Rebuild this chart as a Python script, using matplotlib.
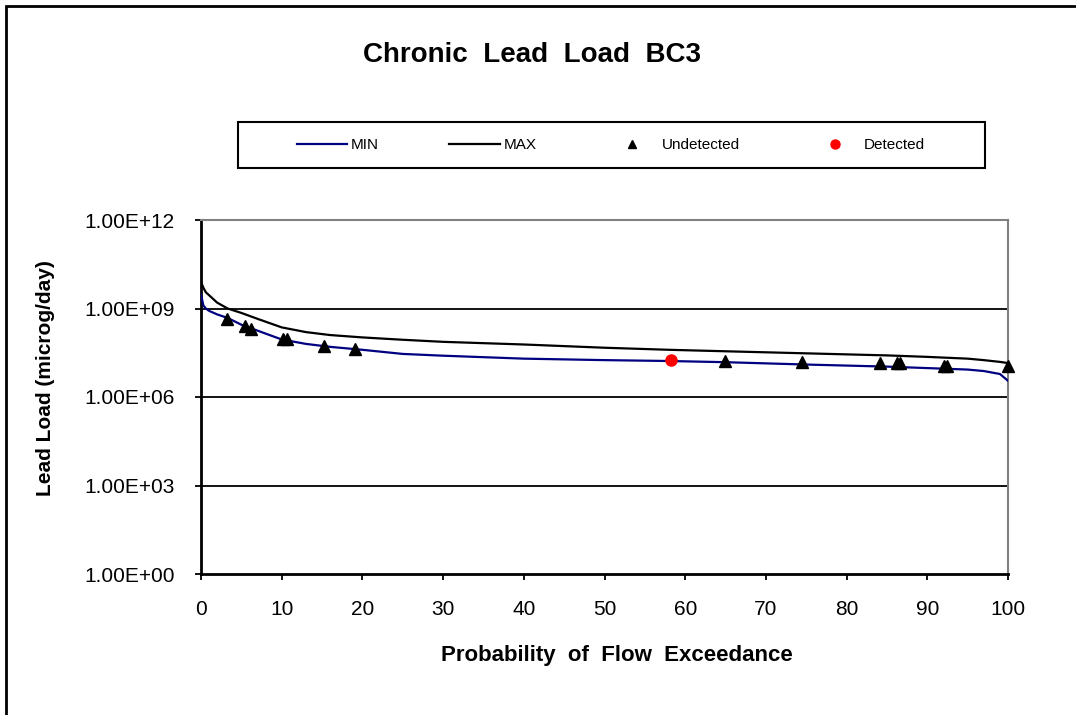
import numpy as np
import matplotlib.pyplot as plt
from matplotlib.lines import Line2D
from matplotlib.patches import Rectangle

# flow exceedance curves (log10 of load)
curve_x = [0, 0.3, 0.6, 1, 2, 3.3, 5, 7, 10, 13, 16, 20, 25, 30, 40, 50, 58, 65, 75, 85, 90, 95, 97, 99, 100]
max_log = [9.9, 9.7, 9.55, 9.45, 9.2, 9.0, 8.85, 8.65, 8.36, 8.2, 8.1, 8.02, 7.94, 7.87, 7.78, 7.67, 7.6, 7.55, 7.48, 7.41, 7.36, 7.3, 7.25, 7.19, 7.15]
min_log = [9.47, 9.1, 9.0, 8.92, 8.8, 8.68, 8.45, 8.25, 7.95, 7.8, 7.7, 7.6, 7.46, 7.4, 7.3, 7.25, 7.22, 7.18, 7.1, 7.03, 6.98, 6.93, 6.88, 6.78, 6.55]

undet_x = [3.2, 5.5, 6.2, 10.2, 10.6, 15.2, 19.1, 64.9, 74.5, 84.1, 86.2, 86.6, 92.1, 92.5, 100]
undet_log = [8.66, 8.39, 8.32, 7.98, 7.98, 7.72, 7.64, 7.22, 7.19, 7.16, 7.15, 7.15, 7.06, 7.06, 7.06]

det_x = [58.2]
det_log = [7.24]

ytick_vals = [1e0, 1e3, 1e6, 1e9, 1e12]
ytick_labels = ['1.00E+00', '1.00E+03', '1.00E+06', '1.00E+09', '1.00E+12']

plt.rcParams['font.family'] = ['Liberation Sans', 'DejaVu Sans']

W, H = 1076, 715
fig = plt.figure(figsize=(W / 100, H / 100), dpi=100)
# outer chart border (only top/left edges visible in the picture)
fig.patches.append(Rectangle((6 / W, -0.1), 1.2, 1 - 6 / H + 0.1, transform=fig.transFigure,
                             fill=False, edgecolor='black', linewidth=2, zorder=0))

ax = fig.add_axes([201 / W, 1 - 574 / H, 807 / W, 354 / H])
ax.set_yscale('log')
ax.set_xlim(0, 100)
ax.set_ylim(1e0, 1e12)

for v in ytick_vals[1:4]:
    ax.axhline(v, color='black', linewidth=1.3, zorder=1)

ax.plot(curve_x, 10 ** np.array(min_log), color='#000080', linewidth=1.6, zorder=3)
ax.plot(curve_x, 10 ** np.array(max_log), color='black', linewidth=1.6, zorder=3)
ax.plot(undet_x, 10 ** np.array(undet_log), linestyle='none', marker='^', color='black',
        markersize=9, zorder=4, clip_on=False)
ax.plot(det_x, 10 ** np.array(det_log), linestyle='none', marker='o', color='red',
        markersize=8, zorder=4)

ax.set_yticks(ytick_vals)
ax.set_yticklabels(ytick_labels)
ax.minorticks_off()
ax.set_xticks(range(0, 101, 10))
ax.tick_params(axis='both', labelsize=15, direction='out', length=4.5, width=1.3)
ax.tick_params(axis='y', pad=14.5)
ax.tick_params(axis='x', pad=14)

for s in ['left', 'bottom']:
    ax.spines[s].set_linewidth(2)
    ax.spines[s].set_color('black')
for s in ['top', 'right']:
    ax.spines[s].set_color('#808080')
    ax.spines[s].set_linewidth(1.5)

ax.set_xlabel('Probability  of  Flow  Exceedance', fontsize=16, fontweight='bold')
ax.xaxis.label.set_va('baseline')
ax.xaxis.set_label_coords((617 - 201) / 807, (574 - 661) / 354)
ax.set_ylabel('Lead Load (microg/day)', fontsize=15, fontweight='bold')
ax.yaxis.label.set_va('baseline')
ax.yaxis.set_label_coords((51 - 201) / 807, (574 - 378) / 354)

fig.text(532 / W, 1 - 62 / H, 'Chronic  Lead  Load  BC3', fontsize=20, fontweight='bold',
         ha='center', va='baseline')

# legend box
fig.patches.append(Rectangle((238 / W, 1 - 168 / H), 747 / W, 46 / H, transform=fig.transFigure,
                             fill=False, edgecolor='black', linewidth=1.5))
handles = [
    Line2D([0], [0], color='#000080', linewidth=1.6),
    Line2D([0], [0], color='black', linewidth=1.6),
    Line2D([0], [0], linestyle='none', marker='^', color='black', markersize=5.5),
    Line2D([0], [0], linestyle='none', marker='o', color='red', markersize=6.5),
]
fig.legend(handles, ['MIN', 'MAX', 'Undetected', 'Detected'], ncol=4,
           loc='center', bbox_to_anchor=(611 / W, 1 - 145 / H),
           fontsize=11, frameon=False, handlelength=3.3, columnspacing=4.6,
           handletextpad=0.26)

fig.savefig('out.png', dpi=100)
